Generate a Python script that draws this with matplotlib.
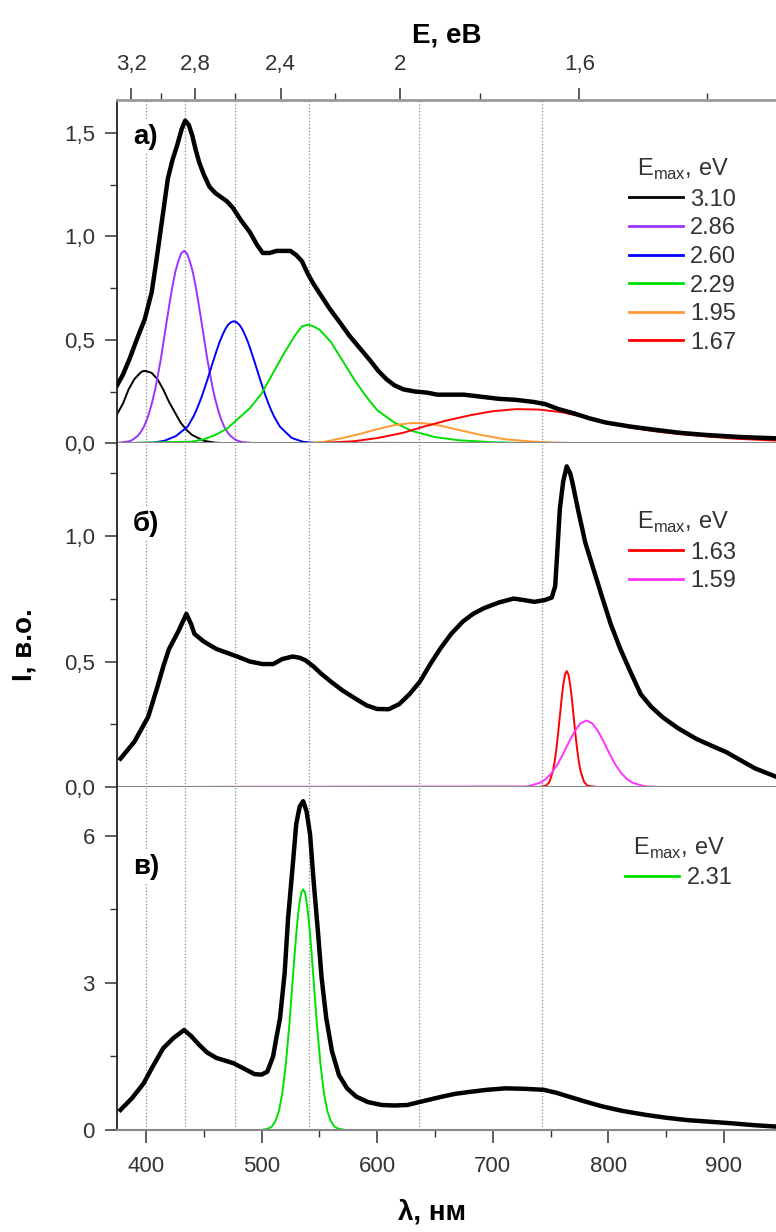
import matplotlib
matplotlib.use('Agg')
import matplotlib.pyplot as plt
from matplotlib.ticker import MultipleLocator, FixedLocator, FuncFormatter

plt.rcParams['font.family'] = ['Liberation Sans', 'DejaVu Sans']
plt.rcParams['mathtext.fontset'] = 'custom'
plt.rcParams['mathtext.rm'] = 'Liberation Sans'

HC = 1239.84  # eV*nm

# ---- panel a) ----
wl_a = [375, 380, 386, 392, 399, 405, 409, 412, 416, 419, 423, 427, 431, 434, 437, 440, 443, 446,
        450, 455, 460, 465, 470, 475, 482, 490, 496, 501, 507, 513, 519, 525, 530, 535, 540, 545,
        552, 559, 567, 576, 585, 594, 601, 608, 615, 623, 633, 643, 652, 661, 675, 690, 705, 720,
        735, 745, 757, 770, 784, 798, 820, 842, 863, 885, 915, 945]
int_a = [0.28, 0.33, 0.41, 0.50, 0.60, 0.73, 0.88, 1.00, 1.16, 1.28, 1.37, 1.44, 1.52, 1.56, 1.54, 1.49, 1.42, 1.36,
         1.30, 1.24, 1.21, 1.19, 1.17, 1.14, 1.08, 1.02, 0.96, 0.92, 0.92, 0.93, 0.93, 0.93, 0.91, 0.88, 0.82, 0.77,
         0.71, 0.65, 0.59, 0.52, 0.46, 0.40, 0.35, 0.31, 0.28, 0.26, 0.25, 0.245, 0.235, 0.235, 0.235, 0.225, 0.215, 0.21,
         0.20, 0.19, 0.165, 0.145, 0.12, 0.10, 0.08, 0.064, 0.05, 0.04, 0.03, 0.024]

# fitted components of panel a)
e_a = ['3.10', '2.86', '2.60', '2.29', '1.95', '1.67']
col_a = ['black', '#9933ff', '#0000ff', '#00e000', '#ff9933', '#ff0000']
comp_a_wl = [
    [375, 380, 385, 390, 395, 397, 399, 402, 405, 410, 415, 420, 425, 430, 435, 440, 450, 460, 470, 950],
    [375, 385, 388, 393, 395.5, 398, 400.5, 403, 405.5, 408, 410.5, 413, 415.5, 418, 420.5, 423, 425.5, 428, 430.5,
     433, 435.5, 438, 440.5, 443, 445.5, 448, 450.5, 453, 455.5, 458, 460.5, 463, 465.5, 468, 470.5, 473, 478, 483, 495, 950],
    [375, 406, 416, 426, 436, 441, 443.5, 446, 448.5, 451, 453.5, 456, 458.5, 461, 463.5, 466, 468.5, 471, 473.5, 476,
     478.5, 481, 483.5, 486, 488.5, 491, 493.5, 496, 498.5, 501, 503.5, 506, 508.5, 511, 516, 526, 536, 546, 950],
    [375, 440, 450, 460, 470, 480, 490, 500, 510, 520, 530, 535, 540, 545, 550, 560, 570, 580, 590, 600, 615, 630, 650,
     670, 700, 740, 950],
    [375, 540, 555, 570, 585, 600, 615, 630, 640, 655, 670, 690, 710, 730, 750, 780, 950],
    [375, 548, 580, 600, 622, 640, 660, 680, 700, 720, 740, 760, 780, 800, 820, 840, 860, 885, 910, 945],
]
comp_a_int = [
    [0.14, 0.19, 0.26, 0.31, 0.34, 0.348, 0.35, 0.346, 0.34, 0.31, 0.26, 0.20, 0.15, 0.10, 0.065, 0.04, 0.012, 0.003, 0.0, 0.0],
    [0.001, 0.009, 0.015, 0.036, 0.054, 0.077, 0.109, 0.15, 0.201, 0.26, 0.333, 0.41, 0.50, 0.59, 0.678, 0.76, 0.83, 0.88, 0.918,
     0.93, 0.918, 0.88, 0.83, 0.76, 0.678, 0.59, 0.50, 0.41, 0.333, 0.26, 0.201, 0.15, 0.109, 0.077, 0.054, 0.036, 0.015, 0.006, 0.0, 0.0],
    [0.0, 0.003, 0.012, 0.035, 0.08, 0.128, 0.158, 0.192, 0.229, 0.27, 0.313, 0.358, 0.402, 0.445, 0.486, 0.52, 0.55, 0.572, 0.585, 0.59,
     0.585, 0.572, 0.55, 0.52, 0.486, 0.445, 0.402, 0.358, 0.313, 0.27, 0.229, 0.192, 0.158, 0.128, 0.08, 0.026, 0.007, 0.002, 0.0],
    [0.0, 0.008, 0.019, 0.04, 0.07, 0.12, 0.17, 0.24, 0.34, 0.44, 0.53, 0.565, 0.573, 0.565, 0.55, 0.49, 0.40, 0.31, 0.23, 0.16,
     0.10, 0.06, 0.03, 0.015, 0.005, 0.0, 0.0],
    [0.0, 0.0, 0.008, 0.025, 0.045, 0.068, 0.088, 0.098, 0.097, 0.085, 0.065, 0.04, 0.02, 0.01, 0.004, 0.0, 0.0],
    [0.0, 0.0, 0.01, 0.025, 0.05, 0.08, 0.11, 0.135, 0.155, 0.165, 0.163, 0.15, 0.125, 0.095, 0.075, 0.058, 0.045, 0.033, 0.022, 0.013],
]

# ---- panel б) ----
wl_b = [378, 390, 402, 410, 415, 420, 428, 435, 439, 442, 450, 461, 470, 479, 490, 501, 510, 518, 527, 533,
        538, 545, 552, 560, 570, 582, 591, 600, 610, 619, 628, 637, 646, 655, 664, 674, 683, 692, 705, 718,
        727, 736, 745, 751, 754, 756, 758, 761, 764, 767, 769, 774, 780, 787, 795, 802, 810, 819, 828, 837,
        847, 860, 876, 889, 902, 915, 927, 945]
int_b = [0.113, 0.18, 0.28, 0.40, 0.48, 0.55, 0.62, 0.69, 0.65, 0.61, 0.58, 0.55, 0.535, 0.52, 0.50, 0.49, 0.49, 0.51, 0.52, 0.515,
         0.505, 0.48, 0.45, 0.42, 0.385, 0.35, 0.325, 0.311, 0.31, 0.33, 0.37, 0.42, 0.49, 0.554, 0.61, 0.659, 0.69, 0.712, 0.735, 0.751,
         0.745, 0.738, 0.745, 0.755, 0.80, 0.95, 1.107, 1.22, 1.278, 1.25, 1.212, 1.10, 0.975, 0.87, 0.751, 0.65, 0.554, 0.46, 0.37, 0.32,
         0.278, 0.235, 0.192, 0.165, 0.139, 0.105, 0.074, 0.041]

e_b = ['1.63', '1.59']
col_b = ['#ff0000', '#ff33ff']
comp_b_wl = [
    [375, 740, 746, 749, 752, 753.5, 755, 756.5, 758, 759.5, 761, 762.5, 764, 765.5, 767, 768.5, 770, 771.5, 773, 774.5,
     776, 779, 782, 790, 950],
    [375, 726, 731, 741, 746, 751, 756, 761, 766, 771, 776, 781, 786, 791, 796, 801, 806, 811, 816, 821, 831, 845, 950],
]
comp_b_int = [
    [0.0, 0.0, 0.005, 0.02, 0.062, 0.10, 0.15, 0.212, 0.28, 0.349, 0.408, 0.448, 0.462, 0.448, 0.408, 0.349, 0.28, 0.212, 0.15, 0.10,
     0.062, 0.02, 0.005, 0.0, 0.0],
    [0.0, 0.002, 0.003, 0.017, 0.032, 0.056, 0.09, 0.133, 0.18, 0.223, 0.254, 0.265, 0.254, 0.223, 0.18, 0.133, 0.09, 0.056, 0.032,
     0.017, 0.003, 0.0, 0.0],
]

# ---- panel в) ----
wl_c = [378, 388, 398, 406, 415, 424, 433, 439, 446, 453, 461, 468, 476, 485, 494, 500, 505, 510, 513, 516,
        520, 523, 527, 530, 533, 536, 539, 542, 545, 549, 552, 556, 561, 567, 574, 582, 592, 604, 615, 626,
        640, 656, 668, 681, 695, 711, 728, 744, 755, 766, 780, 795, 812, 832, 850, 869, 887, 905, 925, 945]
int_c = [0.41, 0.65, 0.95, 1.30, 1.67, 1.88, 2.04, 1.92, 1.74, 1.58, 1.47, 1.42, 1.36, 1.25, 1.14, 1.13, 1.19, 1.50, 1.90, 2.28,
         3.2, 4.33, 5.4, 6.24, 6.6, 6.71, 6.5, 6.03, 5.1, 3.99, 3.1, 2.28, 1.6, 1.12, 0.85, 0.68, 0.57, 0.51, 0.50, 0.51,
         0.59, 0.68, 0.74, 0.78, 0.82, 0.85, 0.84, 0.82, 0.76, 0.68, 0.58, 0.48, 0.39, 0.31, 0.25, 0.20, 0.17, 0.14, 0.10, 0.07]

e_c = ['2.31']
col_c = ['#00e000']
comp_c_wl = [[375, 500, 506, 509, 512, 515, 518, 521, 524, 527, 528.5, 530, 531.5, 533, 534.5, 536, 537.5, 539, 540.5, 542,
              543.5, 545, 548, 551, 554, 557, 560, 563, 566, 572, 950]]
comp_c_int = [[0, 0, 0.03, 0.07, 0.18, 0.38, 0.75, 1.34, 2.13, 3.07, 3.55, 3.99, 4.37, 4.66, 4.85, 4.91, 4.85, 4.66, 4.37, 3.99,
               3.55, 3.07, 2.13, 1.34, 0.75, 0.38, 0.18, 0.07, 0.03, 0, 0]]

# energies marked with dotted lines
e_lines = [3.10, 2.86, 2.60, 2.29, 1.95, 1.67]
e_major = [3.2, 2.8, 2.4, 2.0, 1.6]
e_minor = [3.0, 2.6, 2.2, 1.8, 1.4]
e_labels = ['3,2', '2,8', '2,4', '2', '1,6']

FS = 16
TICK_C = '#333333'


def comma(v, p):
    return f"{v:.1f}".replace('.', ',')


fig = plt.figure(figsize=(7.76, 12.32), dpi=100)
left = 117 / 776
width = 1 - left
ax1 = fig.add_axes([left, 0.6402, width, 0.2787])
ax2 = fig.add_axes([left, 0.3612, width, 0.2790])
ax3 = fig.add_axes([left, 0.0828, width, 0.2784])

panels = [
    (ax1, wl_a, int_a, comp_a_wl, comp_a_int, e_a, col_a, (0, 1.66), 0.5, 0.25, 'а)', 0.93, (0.956, 0.865)),
    (ax2, wl_b, int_b, comp_b_wl, comp_b_int, e_b, col_b, (0, 1.37), 0.5, 0.25, 'б)', 0.805, (0.956, 0.837)),
    (ax3, wl_c, int_c, comp_c_wl, comp_c_int, e_c, col_c, (0, 7.0), 3, 1.5, 'в)', 0.805, (0.95, 0.89)),
]

for ax, wl, inten, cwl, cint, labels, cols, ylim, ymaj, ymin, tag, tag_y, legpos in panels:
    for e in e_lines:
        ax.axvline(HC / e, color='#888888', ls=':', lw=0.9, zorder=0)
    for xs, ys, lab, c in zip(cwl, cint, labels, cols):
        ax.plot(xs, ys, color=c, lw=1.4, label=lab, zorder=2)
    ax.plot(wl, inten, color='black', lw=3.2, zorder=3)

    ax.set_xlim(375, 945)
    ax.set_ylim(*ylim)
    ax.xaxis.set_major_locator(MultipleLocator(100))
    ax.xaxis.set_minor_locator(MultipleLocator(50))
    ax.yaxis.set_major_locator(MultipleLocator(ymaj))
    ax.yaxis.set_minor_locator(MultipleLocator(ymin))
    if ymaj < 1:
        ax.yaxis.set_major_formatter(FuncFormatter(comma))
    ax.tick_params(axis='both', which='major', direction='out', length=9,
                   width=1.1, labelsize=FS, colors=TICK_C, pad=7)
    ax.tick_params(axis='x', which='major', pad=10)
    ax.tick_params(axis='both', which='minor', direction='out', length=5,
                   width=1.0, colors=TICK_C)
    if ax is not ax3:
        ax.tick_params(axis='x', which='both', labelbottom=False)

    ax.spines['right'].set_visible(False)
    ax.spines['top'].set_visible(False)
    ax.spines['left'].set_color('#222222')
    ax.spines['left'].set_linewidth(1.3)
    ax.spines['bottom'].set_color('#888888')
    ax.spines['bottom'].set_linewidth(1.5)

    ax.text(0.024, tag_y, tag, transform=ax.transAxes,
            fontsize=20, fontweight='bold', ha='left', va='top', zorder=4,
            bbox=dict(facecolor='white', edgecolor='none', pad=2))

    leg = ax.legend(loc='upper right', bbox_to_anchor=legpos, frameon=False,
                    title=r'E$_{\mathregular{max}}$, eV', fontsize=17, title_fontsize=17,
                    handlelength=2.3, handletextpad=0.3, labelspacing=0.28,
                    borderpad=0.45, borderaxespad=0)
    for t in leg.get_texts():
        t.set_color('#333333')
    leg.get_title().set_color('#333333')
    for h in leg.get_lines():
        h.set_linewidth(2.0)

# top energy axis
axt = ax1.twiny()
axt.set_xlim(ax1.get_xlim())
axt.xaxis.set_major_locator(FixedLocator([HC / e for e in e_major]))
axt.xaxis.set_minor_locator(FixedLocator([HC / e for e in e_minor]))
axt.set_xticklabels(e_labels)
axt.tick_params(axis='x', which='major', direction='out', length=9, width=1.1,
                labelsize=FS, colors=TICK_C, pad=9)
axt.tick_params(axis='x', which='minor', direction='out', length=5, width=1.0, colors=TICK_C)
for s in ['left', 'right', 'bottom']:
    axt.spines[s].set_visible(False)
axt.spines['top'].set_color('#999999')
axt.spines['top'].set_linewidth(2.0)
axt.set_xlabel('E, eB', fontsize=20, fontweight='bold', labelpad=8)

fig.text(0.032, 1 - 645 / 1232, 'I, в.о.', rotation=90, ha='center', va='center',
         fontsize=20, fontweight='bold')
fig.text(432 / 776, 1 - 1212 / 1232, 'λ, нм', ha='center', va='center',
         fontsize=20, fontweight='bold')

fig.savefig('out.png', dpi=100)
